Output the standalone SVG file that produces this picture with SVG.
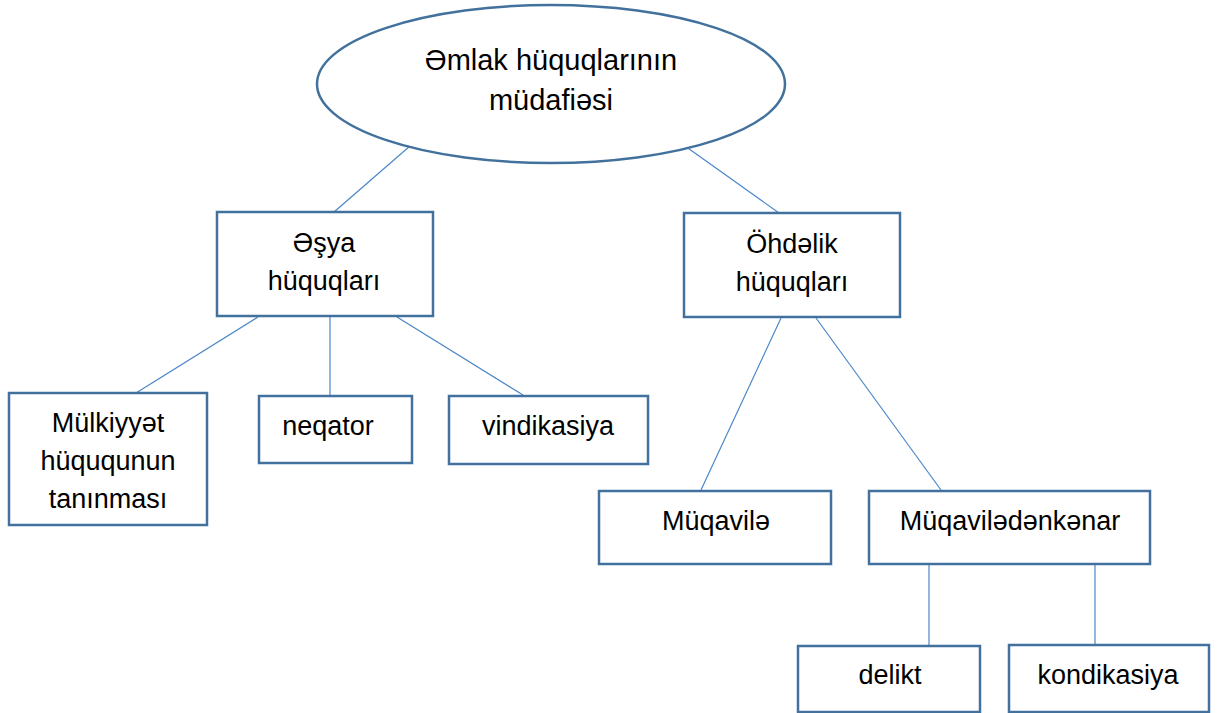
<svg xmlns="http://www.w3.org/2000/svg" width="1219" height="713" viewBox="0 0 1219 713">
<style>
.n{fill:#fff;stroke:#41719C;stroke-width:2.5}
.c line{stroke:#4A86C8;stroke-width:1.2}
text{font-family:"Liberation Sans",Arial,sans-serif;font-size:27px;fill:#000;text-anchor:middle}
.big{font-size:29px}
</style>
<rect width="1219" height="713" fill="#fff"/>
<g class="c" id="connectors">
<line x1="410" y1="146" x2="334" y2="212"/>
<line x1="685" y1="146" x2="779" y2="213"/>
<line x1="258" y1="317" x2="136" y2="393"/>
<line x1="330" y1="317" x2="330" y2="396"/>
<line x1="397" y1="317" x2="523" y2="395"/>
<line x1="781" y1="318" x2="701" y2="490"/>
<line x1="816" y1="318" x2="941" y2="490"/>
<line x1="929" y1="564" x2="929" y2="646"/>
<line x1="1095" y1="564" x2="1095" y2="645"/>
</g>
<g id="root"><ellipse class="n" cx="551" cy="84" rx="234" ry="79"/><text class="big" x="551" y="70">Əmlak hüquqlarının</text><text class="big" x="551" y="110">müdafiəsi</text></g>
<g id="esya"><rect class="n" x="217" y="212" width="216" height="104"/><text x="324" y="252">Əşya</text><text x="324" y="290">hüquqları</text></g>
<g id="ohdelik"><rect class="n" x="684" y="213" width="216" height="104"/><text x="792" y="253">Öhdəlik</text><text x="792" y="291">hüquqları</text></g>
<g id="mulkiyyet"><rect class="n" x="9" y="393" width="198" height="132"/><text x="108" y="432">Mülkiyyət</text><text x="108" y="470">hüququnun</text><text x="108" y="508">tanınması</text></g>
<g id="neqator"><rect class="n" x="259" y="396" width="153" height="67"/><text x="328" y="435">neqator</text></g>
<g id="vindikasiya"><rect class="n" x="449" y="396" width="199" height="68"/><text x="548" y="435">vindikasiya</text></g>
<g id="muqavile"><rect class="n" x="599" y="491" width="232" height="73"/><text x="716" y="530">Müqavilə</text></g>
<g id="muqaviledenkenar"><rect class="n" x="869" y="491" width="281" height="73"/><text x="1010" y="530">Müqavilədənkənar</text></g>
<g id="delikt"><rect class="n" x="798" y="646" width="182" height="66"/><text x="890" y="684">delikt</text></g>
<g id="kondikasiya"><rect class="n" x="1009" y="645" width="200" height="67"/><text x="1108" y="684">kondikasiya</text></g>
</svg>
